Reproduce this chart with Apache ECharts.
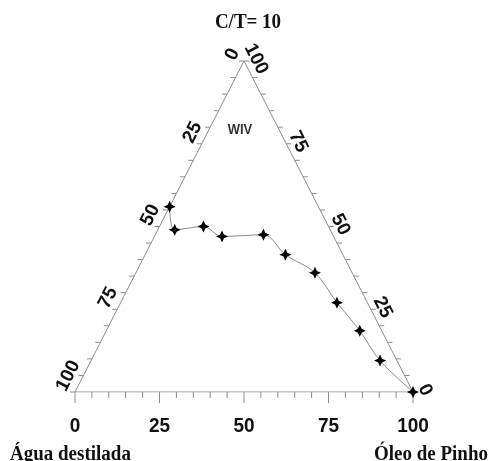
<!DOCTYPE html>
<html>
<head>
<meta charset="utf-8">
<script src="https://cdn.jsdelivr.net/npm/echarts@6/dist/echarts.min.js"></script>
<style>
  html, body { margin: 0; padding: 0; background: #fff; }
  #chart { width: 496px; height: 461px; }
</style>
</head>
<body>
<div id="chart"></div>
<script>
// Boundary compositions at C/T = 10 (mass %), one entry per measured point
const aguaPct = [44, 46, 37, 33, 20.5, 17, 11, 9, 6.5, 5, 0];
const oleoPct = [0, 5, 13, 20, 32, 41.5, 53, 64, 75, 85.5, 100];
const ctPct   = [56, 49, 50, 47, 47.5, 41.5, 36, 27, 18.5, 9.5, 0];

// Axis ticks (every 5 %) and labelled values
const tickValues = [0, 5, 10, 15, 20, 25, 30, 35, 40, 45, 50, 55, 60, 65, 70, 75, 80, 85, 90, 95, 100];
const labelValues = [0, 25, 50, 75, 100];

const titleText = 'C/T= 10';
const vertexNames = ['Água destilada', 'Óleo de Pinho'];
const regionName = 'WIV';
// composition where the region name sits (água, óleo, C/T)
const regionAt = [11.6, 9.2, 79.2];

// ternary (água, óleo, C/T) -> cartesian; água is implied by the other two
function toXY(agua, oleo, ct) {
  return [oleo + ct / 2, ct];
}

const edgeColor = '#8c8c8c';
const textColor = '#111';
const numFont = 'bold 19px "Liberation Sans", Arial, sans-serif';
const serifFont = 'bold 19px "Liberation Serif", "Times New Roman", serif';
const DEG = Math.PI / 180;
const edgeAngle = 63 * DEG;

// tick items: [side, value]; side 0 = bottom, 1 = left (água), 2 = right (C/T)
const tickData = [];
[0, 1, 2].forEach(side => tickValues.forEach(v => tickData.push([side, v])));

function renderTick(params, api) {
  const side = api.value(0);
  const v = api.value(1);
  let xy;
  if (side === 0) xy = toXY(100 - v, v, 0);
  else if (side === 1) xy = toXY(v, 0, 100 - v);
  else xy = toXY(0, 100 - v, v);
  const p = api.coord(xy);
  const major = labelValues.indexOf(v) >= 0;
  const lineStyle = { stroke: edgeColor, lineWidth: 1 };
  const children = [];
  if (side === 0) {
    children.push({ type: 'line', shape: { x1: p[0], y1: p[1], x2: p[0], y2: p[1] + (major ? 11 : 6) }, style: lineStyle });
    if (major) {
      children.push({ type: 'text', x: p[0], y: p[1] + 34, scaleY: 1.1,
        style: { text: String(v), align: 'center', verticalAlign: 'middle', font: numFont, fill: textColor } });
    }
  } else if (side === 1) {
    children.push({ type: 'line', shape: { x1: p[0], y1: p[1], x2: p[0] - 5, y2: p[1] }, style: lineStyle });
    if (major) {
      children.push({ type: 'text', x: p[0] - 14, y: p[1] - 2, rotation: edgeAngle,
        style: { text: String(v), align: 'left', verticalAlign: 'middle', font: numFont, fill: textColor } });
    }
  } else {
    children.push({ type: 'line', shape: { x1: p[0], y1: p[1], x2: p[0] + 5, y2: p[1] }, style: lineStyle });
    if (major) {
      children.push({ type: 'text', x: p[0] + 12, y: p[1] - 2, rotation: -edgeAngle,
        style: { text: String(v), align: 'center', verticalAlign: 'middle', font: numFont, fill: textColor } });
    }
  }
  return { type: 'group', children: children };
}

function renderRegion(params, api) {
  const p = api.coord([api.value(0), api.value(1)]);
  return { type: 'text', x: p[0], y: p[1], scaleY: 1.1,
    style: { text: regionName, align: 'center', verticalAlign: 'middle',
      font: 'bold 13px "Liberation Sans", Arial, sans-serif', fill: '#333' } };
}

const frame = [toXY(100, 0, 0), toXY(0, 100, 0), toXY(0, 0, 100), toXY(100, 0, 0)];
const curve = aguaPct.map((a, i) => toXY(a, oleoPct[i], ctPct[i]));

const star = 'path://M5,0 L6.6,3.4 L10,5 L6.6,6.6 L5,10 L3.4,6.6 L0,5 L3.4,3.4 Z';

const chart = echarts.init(document.getElementById('chart'), null, { renderer: 'canvas' });
chart.setOption({
  animation: false,
  backgroundColor: '#fff',
  grid: { left: 75, right: 83, top: 61, bottom: 69 },
  xAxis: { type: 'value', min: 0, max: 100, show: false },
  yAxis: { type: 'value', min: 0, max: 100, show: false },
  graphic: [
    { type: 'text', x: 248, y: 23, scaleY: 1.12,
      style: { text: titleText, align: 'center', verticalAlign: 'middle', font: serifFont, fill: textColor } },
    { type: 'text', x: 10, y: 455, scaleY: 1.12,
      style: { text: vertexNames[0], align: 'left', verticalAlign: 'middle', font: serifFont, fill: textColor } },
    { type: 'text', x: 488, y: 455, scaleY: 1.12,
      style: { text: vertexNames[1], align: 'right', verticalAlign: 'middle', font: serifFont, fill: textColor } }
  ],
  series: [
    {
      type: 'line', data: frame, symbol: 'none', silent: true,
      lineStyle: { color: edgeColor, width: 1 }, z: 1
    },
    {
      type: 'custom', data: tickData, renderItem: renderTick, silent: true, z: 2,
      encode: { x: -1, y: -1 }
    },
    {
      type: 'custom', data: [toXY(regionAt[0], regionAt[1], regionAt[2])], renderItem: renderRegion, silent: true, z: 2
    },
    {
      type: 'line', data: curve, smooth: 0.35,
      symbol: star, symbolSize: 12,
      itemStyle: { color: '#000' },
      lineStyle: { color: '#8a8a8a', width: 1 }, z: 3
    }
  ]
});
</script>
</body>
</html>
